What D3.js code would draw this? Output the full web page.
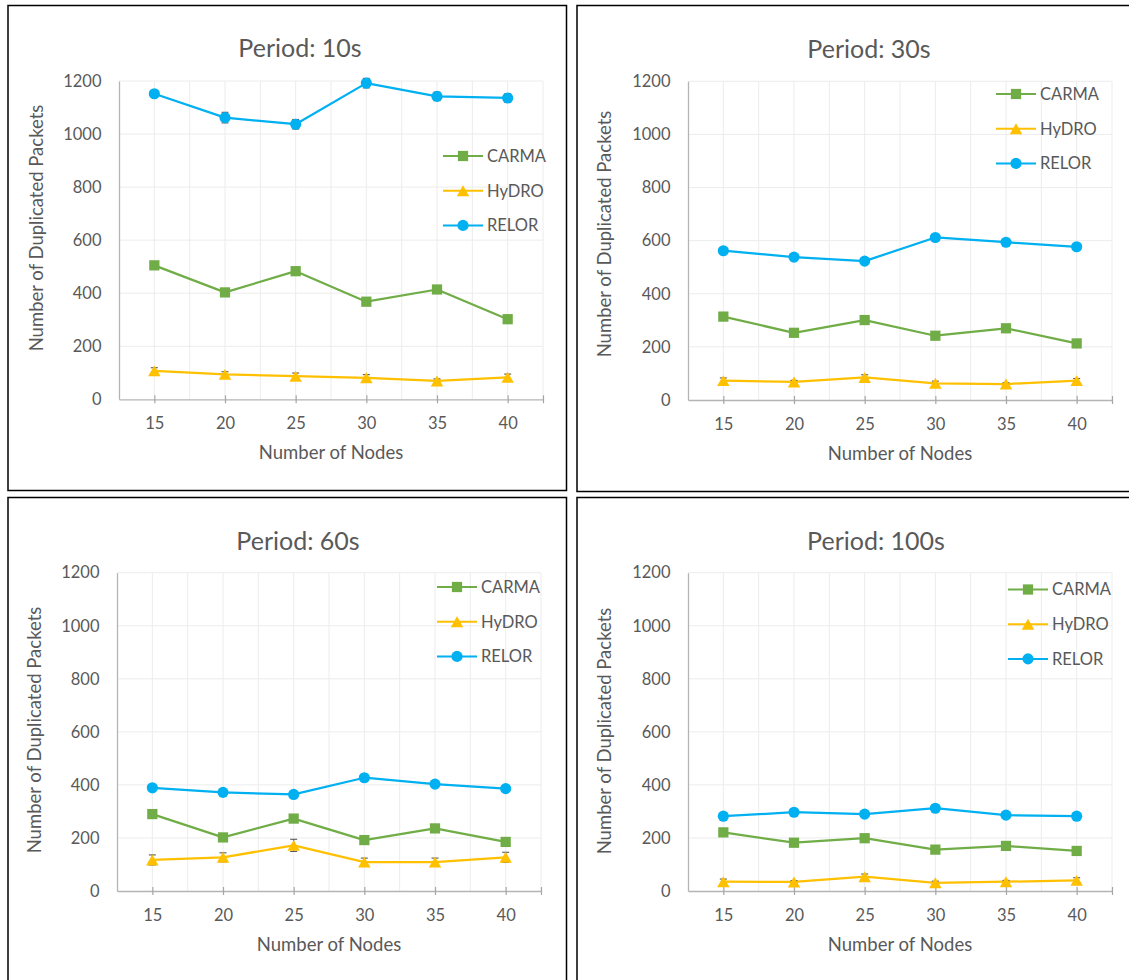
<!DOCTYPE html>
<html>
<head>
<meta charset="utf-8">
<script src="https://cdn.jsdelivr.net/npm/d3@7"></script>
<style>
  html, body { margin: 0; padding: 0; background: #fff; }
  svg { display: block; }
  text { font-family: Lato, "Open Sans", sans-serif; fill: #595959; }
</style>
</head>
<body>
<svg id="chart" width="1129" height="980"></svg>
<script>
// ---- data ----
const nodeCounts = [15, 20, 25, 30, 35, 40];
const yTicks = [0, 200, 400, 600, 800, 1000, 1200];
const seriesNames = ["CARMA", "HyDRO", "RELOR"];
const seriesColors = ["#70AD47", "#FFC000", "#00B0F0"];
const panelTitles = ["Period: 10s", "Period: 30s", "Period: 60s", "Period: 100s"];
const xAxisTitle = "Number of Nodes";
const yAxisTitle = "Number of Duplicated Packets";

// period 10 s
const carma10 = [505, 403, 483, 368, 414, 302];
const hydro10 = [107, 94, 87, 81, 69, 83];
const relor10 = [1152, 1062, 1037, 1192, 1142, 1136];
const hydro10Err = [12, 10, 12, 12, 8, 12];
const relor10Err = [12, 20, 18, 18, 16, 16];

// period 30 s
const carma30 = [314, 253, 301, 242, 270, 213];
const hydro30 = [73, 68, 85, 63, 60, 73];
const relor30 = [562, 538, 523, 612, 594, 577];
const hydro30Err = [10, 6, 10, 8, 5, 8];

// period 60 s
const carma60 = [290, 202, 273, 192, 236, 185];
const hydro60 = [117, 127, 172, 109, 109, 127];
const relor60 = [389, 372, 364, 427, 403, 386];
const hydro60Err = [19, 17, 23, 15, 15, 19];

// period 100 s
const carma100 = [221, 182, 199, 156, 170, 151];
const hydro100 = [35, 34, 54, 31, 35, 40];
const relor100 = [282, 297, 290, 312, 286, 282];
const hydro100Err = [10, 5, 10, 6, 5, 10];

const noErr = [0, 0, 0, 0, 0, 0];

// ---- layout of the four chart boxes ----
const panels = [
  { title: panelTitles[0], values: [carma10, hydro10, relor10], errors: [noErr, hydro10Err, relor10Err],
    frame: { x: 8, y: 5.5, w: 558.5, h: 485 },
    plot: { l: 119, r: 543, t: 81, b: 399.3 },
    titleX: 300, titleY: 57, xtX: 331, xtY: 459, ytX: 43, ytY: 228,
    legend: { x: 443, y: 156 } },
  { title: panelTitles[1], values: [carma30, hydro30, relor30], errors: [noErr, hydro30Err, noErr],
    frame: { x: 577, y: 5.5, w: 620, h: 486 },
    plot: { l: 688, r: 1112, t: 81.3, b: 400 },
    titleX: 869, titleY: 58, xtX: 900, xtY: 460, ytX: 611, ytY: 234,
    legend: { x: 996, y: 94 } },
  { title: panelTitles[2], values: [carma60, hydro60, relor60], errors: [noErr, hydro60Err, noErr],
    frame: { x: 8, y: 497.5, w: 558.5, h: 600 },
    plot: { l: 117, r: 541, t: 572.7, b: 891 },
    titleX: 298, titleY: 550, xtX: 329, xtY: 951, ytX: 41, ytY: 730,
    legend: { x: 437, y: 587 } },
  { title: panelTitles[3], values: [carma100, hydro100, relor100], errors: [noErr, hydro100Err, noErr],
    frame: { x: 577, y: 497.5, w: 620, h: 600 },
    plot: { l: 688, r: 1112, t: 572.7, b: 891 },
    titleX: 876, titleY: 550, xtX: 900, xtY: 951, ytX: 611, ytY: 731,
    legend: { x: 1008, y: 589.5 } }
];

const svg = d3.select("#chart");

// triangle centred on its bounding box, as spreadsheet markers are
const triangleMarker = {
  draw(ctx, size) {
    const w = Math.sqrt(size * 2 / 0.875), h = w * 0.875;
    ctx.moveTo(0, -h / 2);
    ctx.lineTo(w / 2, h / 2);
    ctx.lineTo(-w / 2, h / 2);
    ctx.closePath();
  }
};
const symbolTypes = [d3.symbolSquare, triangleMarker, d3.symbolCircle];
const symbolSizes = [105, 68, 98];

function drawMarker(sel, i) {
  sel.append("path")
    .attr("d", d3.symbol().type(symbolTypes[i]).size(symbolSizes[i])())
    .attr("fill", seriesColors[i]);
}

panels.forEach(p => {
  const g = svg.append("g");

  // chart box
  g.append("rect")
    .attr("x", p.frame.x).attr("y", p.frame.y)
    .attr("width", p.frame.w).attr("height", p.frame.h)
    .attr("fill", "#fff").attr("stroke", "#000").attr("stroke-width", 1.5);

  const x = d3.scaleLinear().domain([12.5, 42.5]).range([p.plot.l, p.plot.r]);
  const y = d3.scaleLinear().domain([0, 1200]).range([p.plot.b, p.plot.t]);

  // vertical gridlines every 2.5 nodes
  const vGrid = d3.range(15, 42.6, 2.5);
  g.append("g").selectAll("line").data(vGrid).join("line")
    .attr("x1", d => x(d)).attr("x2", d => x(d))
    .attr("y1", y(1200)).attr("y2", y(0))
    .attr("stroke", "#ececec").attr("stroke-width", 1);

  // horizontal gridlines
  g.append("g").selectAll("line").data(yTicks.slice(1)).join("line")
    .attr("x1", x(12.5)).attr("x2", x(42.5))
    .attr("y1", d => y(d)).attr("y2", d => y(d))
    .attr("stroke", "#ececec").attr("stroke-width", 1);

  // y axis
  const yAxis = d3.axisLeft(y).tickValues(yTicks).tickFormat(d3.format("d"))
    .tickSize(0).tickPadding(17.5);
  const yg = g.append("g").attr("transform", `translate(${x(12.5)},0)`).call(yAxis);
  yg.select(".domain").attr("stroke", "#b4b4b4").attr("stroke-width", 1.3);
  yg.selectAll("text").style("font-size", "16.5px").attr("fill", "#595959")
    .style("font-family", "Lato, sans-serif");

  // x axis with crossing tick marks
  const xAxis = d3.axisBottom(x).tickValues(nodeCounts.concat([42.5]))
    .tickSizeInner(4).tickSizeOuter(0).tickPadding(14)
    .tickFormat(d => nodeCounts.includes(d) ? d : "");
  const xg = g.append("g").attr("transform", `translate(0,${y(0)})`).call(xAxis);
  xg.select(".domain").attr("stroke", "#b4b4b4").attr("stroke-width", 1.3);
  xg.selectAll(".tick line").attr("y1", -4).attr("y2", 4)
    .attr("stroke", "#a6a6a6").attr("stroke-width", 1.2);
  xg.selectAll("text").style("font-size", "16.5px").attr("fill", "#595959")
    .style("font-family", "Lato, sans-serif");

  // series lines, error bars, markers
  p.values.forEach((vals, i) => {
    const pts = nodeCounts.map((n, k) => ({ n, v: vals[k], e: p.errors[i][k] }));
    g.append("path").datum(pts)
      .attr("d", d3.line().x(d => x(d.n)).y(d => y(d.v)))
      .attr("fill", "none").attr("stroke", seriesColors[i]).attr("stroke-width", 2.25)
      .attr("stroke-linejoin", "round");

    const eb = g.append("g").selectAll("g").data(pts.filter(d => d.e > 0)).join("g")
      .attr("stroke", "#595959").attr("stroke-width", 1.1);
    eb.append("line").attr("x1", d => x(d.n)).attr("x2", d => x(d.n))
      .attr("y1", d => y(d.v - d.e)).attr("y2", d => y(d.v + d.e));
    eb.append("line").attr("x1", d => x(d.n) - 3.5).attr("x2", d => x(d.n) + 3.5)
      .attr("y1", d => y(d.v + d.e)).attr("y2", d => y(d.v + d.e));
    eb.append("line").attr("x1", d => x(d.n) - 3.5).attr("x2", d => x(d.n) + 3.5)
      .attr("y1", d => y(d.v - d.e)).attr("y2", d => y(d.v - d.e));

    g.append("g").selectAll("g").data(pts).join("g")
      .attr("transform", d => `translate(${x(d.n)},${y(d.v)})`)
      .each(function () { drawMarker(d3.select(this), i); });
  });

  // legend
  seriesNames.forEach((name, i) => {
    const ly = p.legend.y + i * 34.7;
    const lg = g.append("g").attr("transform", `translate(${p.legend.x},${ly})`);
    lg.append("line").attr("x1", 0).attr("x2", 40).attr("y1", 0).attr("y2", 0)
      .attr("stroke", seriesColors[i]).attr("stroke-width", 2);
    lg.append("g").attr("transform", "translate(20,0)")
      .each(function () { drawMarker(d3.select(this), i); });
    lg.append("text").attr("x", 44).attr("y", 0).attr("dy", "0.36em")
      .style("font-size", "16.5px").text(name);
  });

  // titles
  g.append("text").attr("x", p.titleX).attr("y", p.titleY)
    .attr("text-anchor", "middle").style("font-size", "25px").text(p.title);
  g.append("text").attr("x", p.xtX).attr("y", p.xtY)
    .attr("text-anchor", "middle").style("font-size", "18.5px").text(xAxisTitle);
  g.append("text").attr("transform", `translate(${p.ytX},${p.ytY}) rotate(-90)`)
    .attr("text-anchor", "middle").style("font-size", "18.5px").text(yAxisTitle);
});
</script>
</body>
</html>
